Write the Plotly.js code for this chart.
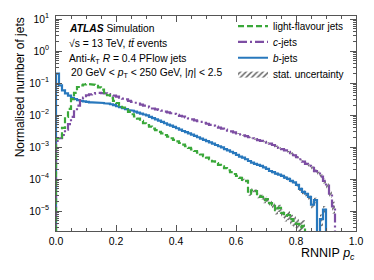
<!DOCTYPE html>
<html>
<head>
<meta charset="utf-8">
<script src="https://cdn.plot.ly/plotly-3.0.1.min.js"></script>
<style>html,body{margin:0;padding:0;background:#fff;}#plot{width:374px;height:280px;}</style>
</head>
<body>
<div id="plot"></div>
<script>
// Histogram binning of RNNIP p_c (100 equal bins on [0,1])
const xMin = 0.0, xMax = 1.0, nBins = 100;

// Normalised number of jets per bin (0 = empty bin)
const lightJets = [
 1.9e-3, 2.0e-3, 4.0e-3, 8.9e-3, 1.58e-2, 3.16e-2, 5.0e-2, 7.6e-2, 8.5e-2, 9.1e-2,
 9.3e-2, 9.3e-2, 8.9e-2, 8.3e-2, 7.4e-2, 6.3e-2, 5.1e-2, 4.2e-2, 3.4e-2, 2.8e-2,
 2.4e-2, 2.04e-2, 1.74e-2, 1.48e-2, 1.26e-2, 1.07e-2, 9.1e-3, 7.8e-3, 6.6e-3, 5.6e-3,
 4.9e-3, 4.4e-3, 3.8e-3, 3.4e-3, 3.0e-3, 2.7e-3, 2.4e-3, 2.14e-3, 1.9e-3, 1.7e-3,
 1.51e-3, 1.35e-3, 1.2e-3, 1.07e-3, 9.5e-4, 8.5e-4, 7.6e-4, 6.8e-4, 5.9e-4, 5.25e-4,
 4.7e-4, 4.2e-4, 3.6e-4, 3.2e-4, 2.8e-4, 2.5e-4, 2.2e-4, 1.9e-4, 1.66e-4, 1.45e-4,
 1.26e-4, 1.1e-4, 9.5e-5, 8.9e-5, 3.55e-5, 4.5e-5, 4.2e-5, 3.0e-5, 2.8e-5, 2.2e-5,
 2.4e-5, 1.78e-5, 1.58e-5, 1.07e-5, 1.26e-5, 8.9e-6, 7.1e-6, 7.6e-6, 5.6e-6, 5.0e-6,
 4.0e-6, 3.16e-6, 3.5e-6, 0, 0, 0, 0, 0, 0, 0,
 0, 0, 0, 0, 0, 0, 0, 0, 0, 0
];
const cJets = [
 1.58e-3, 1.9e-3, 2.4e-3, 3.55e-3, 5.25e-3, 8.9e-3, 1.32e-2, 2.0e-2, 2.95e-2, 3.55e-2,
 4.2e-2, 4.5e-2, 4.7e-2, 4.9e-2, 5.0e-2, 4.9e-2, 4.8e-2, 4.6e-2, 4.35e-2, 4.1e-2,
 3.8e-2, 3.55e-2, 3.3e-2, 3.1e-2, 2.8e-2, 2.6e-2, 2.45e-2, 2.3e-2, 2.14e-2, 2.0e-2,
 1.86e-2, 1.74e-2, 1.62e-2, 1.51e-2, 1.45e-2, 1.38e-2, 1.29e-2, 1.23e-2, 1.15e-2, 1.1e-2,
 1.02e-2, 9.5e-3, 9.1e-3, 8.5e-3, 7.9e-3, 7.4e-3, 6.9e-3, 6.5e-3, 6.2e-3, 5.75e-3,
 5.4e-3, 5.0e-3, 4.7e-3, 4.4e-3, 4.1e-3, 3.8e-3, 3.55e-3, 3.3e-3, 3.1e-3, 2.9e-3,
 2.7e-3, 2.5e-3, 2.35e-3, 2.2e-3, 2.04e-3, 1.9e-3, 1.78e-3, 1.66e-3, 1.58e-3, 1.48e-3,
 1.38e-3, 1.29e-3, 1.17e-3, 1.07e-3, 9.5e-4, 8.7e-4, 7.9e-4, 7.2e-4, 6.5e-4, 5.6e-4,
 4.9e-4, 4.2e-4, 3.55e-4, 3.0e-4, 2.6e-4, 2.24e-4, 1.78e-4, 1.5e-4, 1.2e-4, 8.9e-5,
 6.3e-5, 3.55e-5, 1.41e-5, 0, 0, 0, 0, 0, 0, 0
];
const bJets = [
 2.0e-1, 8.5e-2, 6.0e-2, 4.8e-2, 4.1e-2, 3.5e-2, 3.2e-2, 2.95e-2, 2.8e-2, 2.7e-2,
 2.6e-2, 2.5e-2, 2.5e-2, 2.45e-2, 2.45e-2, 2.4e-2, 2.35e-2, 2.3e-2, 2.2e-2, 2.05e-2,
 1.9e-2, 1.78e-2, 1.66e-2, 1.55e-2, 1.45e-2, 1.38e-2, 1.29e-2, 1.2e-2, 1.12e-2, 1.05e-2,
 9.8e-3, 8.9e-3, 8.1e-3, 7.4e-3, 6.8e-3, 6.2e-3, 5.6e-3, 5.1e-3, 4.7e-3, 4.3e-3,
 3.9e-3, 3.55e-3, 3.2e-3, 2.95e-3, 2.7e-3, 2.45e-3, 2.24e-3, 2.04e-3, 1.86e-3, 1.7e-3,
 1.55e-3, 1.41e-3, 1.29e-3, 1.17e-3, 1.07e-3, 9.8e-4, 8.7e-4, 7.9e-4, 7.2e-4, 6.5e-4,
 5.75e-4, 5.1e-4, 4.7e-4, 4.2e-4, 3.7e-4, 3.3e-4, 3.0e-4, 2.8e-4, 2.6e-4, 2.35e-4,
 2.1e-4, 1.8e-4, 1.66e-4, 1.5e-4, 1.38e-4, 1.26e-4, 1.12e-4, 1.02e-4, 8.9e-5, 7.9e-5,
 6.6e-5, 5.0e-5, 4.0e-5, 3.5e-5, 2.8e-5, 1.6e-5, 2.2e-5, 0, 5.6e-6, 1.12e-5,
 0, 0, 0, 0, 0, 0, 0, 0, 0, 0
];

// Relative statistical uncertainty in the tails (from bin errStartBin onwards)
const errStartBin = 60;
const lightErrTail = [0.08,0.09,0.09,0.10,0.15,0.14,0.14,0.16,0.17,0.19,0.18,0.21,0.22,0.27,0.25,0.30,0.33,0.32,0.37,0.40,0.45,0.50,0.48];
const cErrTail = [0.03,0.03,0.03,0.03,0.03,0.04,0.04,0.04,0.04,0.04,0.04,0.05,0.05,0.05,0.05,0.06,0.06,0.06,0.07,0.07,0.08,0.08,0.09,0.10,0.11,0.12,0.13,0.14,0.16,0.18,0.21,0.27,0.40];
const bErrTail = [0.04,0.04,0.05,0.05,0.05,0.05,0.06,0.06,0.06,0.07,0.07,0.07,0.08,0.08,0.08,0.09,0.09,0.10,0.10,0.11,0.12,0.14,0.15,0.16,0.18,0.24,0.20,0,0.40,0.30];

const seriesNames = ['light-flavour jets', '<i>c</i>-jets', '<i>b</i>-jets'];
const uncertaintyName = 'stat. uncertainty';
const yTickVals = [1e-5, 1e-4, 1e-3, 1e-2, 1e-1, 1e0, 1e1];
const yTickText = ['10<sup>\u22125</sup>','10<sup>\u22124</sup>','10<sup>\u22123</sup>','10<sup>\u22122</sup>','10<sup>\u22121</sup>','10<sup>0</sup>','10<sup>1</sup>'];
const xTickVals = [0.0, 0.2, 0.4, 0.6, 0.8, 1.0];
const xTickText = ['0.0','0.2','0.4','0.6','0.8','1.0'];
const infoLines = [
  '<b><i>ATLAS</i></b> Simulation',
  '\u221As = 13 TeV, <i>t</i><i>t\u0304</i> events',
  'Anti-<i>k</i><sub>T</sub> <i>R</i> = 0.4 PFlow jets',
  '\u200920 GeV &lt; <i>p</i><sub>T</sub> &lt; 250 GeV, |<i>\u03B7</i>| &lt; 2.5'
];

// ---- drawing ----
const FLOOR = 1e-9;
const bw = (xMax - xMin) / nBins;
function stepXY(vals) {
  const xs = [xMin], ys = [FLOOR];
  for (let i = 0; i < vals.length; i++) {
    const lo = xMin + i * bw, hi = lo + bw;
    const v = vals[i] > 0 ? vals[i] : FLOOR;
    xs.push(lo, hi); ys.push(v, v);
  }
  xs.push(xMax); ys.push(FLOOR);
  return {x: xs, y: ys};
}
function bandXY(vals, errs) {
  const xs = [], ys = [];
  for (let k = 0; k < errs.length; k++) {
    const i = errStartBin + k, v = vals[i], e = errs[k];
    if (!(v > 0) || !(e > 0)) continue;
    const lo = xMin + i * bw, hi = lo + bw;
    const up = v * (1 + e), dn = Math.max(v * (1 - e), FLOOR * 10);
    xs.push(lo, hi, hi, lo, lo, null);
    ys.push(up, up, dn, dn, up, null);
  }
  return {x: xs, y: ys};
}

const colors = ['#3aa83a', '#7d4ea3', '#2878bd'];
const dashes = ['6px,3px', '9px,3px,2px,3px', 'solid'];
const allVals = [lightJets, cJets, bJets];
const allErrs = [lightErrTail, cErrTail, bErrTail];
const legendIds = ['legend', 'legend2', 'legend3'];
const hatch = {shape: '/', fgcolor: '#555', bgcolor: 'rgba(255,255,255,0)', size: 4, solidity: 0.35};

const traces = [];
for (let s = 0; s < 3; s++) {
  const b = bandXY(allVals[s], allErrs[s]);
  traces.push({
    x: b.x, y: b.y, mode: 'lines', type: 'scatter', fill: 'toself',
    fillcolor: 'rgba(0,0,0,0)', line: {width: 0, color: 'rgba(0,0,0,0)'},
    fillpattern: hatch, legend: 'legend4',
    name: uncertaintyName, showlegend: s === 0, hoverinfo: 'skip'
  });
}
const order = [2, 1, 0];
for (const s of order) {
  const st = stepXY(allVals[s]);
  traces.push({
    x: st.x, y: st.y, mode: 'lines', type: 'scatter',
    line: {color: colors[s], width: 2.2, dash: dashes[s]},
    name: seriesNames[s], legend: legendIds[s]
  });
}

const L = 56, R = 18, T = 14, B = 49, W = 374, H = 280;
const pw = W - L - R, ph = H - T - B;
const px2x = p => (p - L) / pw;
const py2y = p => 1 - (p - T) / ph;
const FONT = 'Liberation Sans, Arial, Helvetica, sans-serif';

const minorY = [];
for (let e = -6; e <= 1; e++) for (let m = 2; m <= 9; m++) minorY.push(m * Math.pow(10, e));

function legendAt(centerPy) {
  return {x: px2x(233), y: py2y(centerPy - 16.5), xanchor: 'left', yanchor: 'top',
    bgcolor: 'rgba(0,0,0,0)', font: {size: 10, family: FONT}, traceorder: 'normal', itemwidth: 30};
}
const linePy = [26.7, 41.7, 58, 72.5];

const layout = {
  width: W, height: H,
  margin: {l: L, r: R, t: T, b: B, pad: 0},
  paper_bgcolor: '#fff', plot_bgcolor: '#fff',
  font: {family: FONT, size: 10.5, color: '#000'},
  showlegend: true,
  legend: legendAt(26), legend2: legendAt(42), legend3: legendAt(58), legend4: legendAt(74),
  xaxis: {
    type: 'linear', range: [xMin, xMax], showgrid: false, zeroline: false,
    showline: true, linecolor: '#555', linewidth: 1, mirror: 'allticks',
    ticks: 'inside', ticklen: 6, tickcolor: '#555', tickwidth: 1,
    tickmode: 'array', tickvals: xTickVals, ticktext: xTickText,
    tickfont: {size: 10.5, family: FONT, color: '#000'},
    minor: {tickmode: 'linear', tick0: 0, dtick: 0.05, ticks: 'inside', ticklen: 3, tickcolor: '#555', showgrid: false}
  },
  yaxis: {
    type: 'log', range: [-5.62, 1.10], showgrid: false, zeroline: false,
    showline: true, linecolor: '#555', linewidth: 1, mirror: 'allticks',
    ticks: 'inside', ticklen: 6, tickcolor: '#555', tickwidth: 1, ticklabelstandoff: 4,
    tickmode: 'array', tickvals: yTickVals, ticktext: yTickText,
    tickfont: {size: 10.3, family: FONT, color: '#000'},
    minor: {tickmode: 'array', tickvals: minorY, ticks: 'inside', ticklen: 3, tickcolor: '#555', showgrid: false}
  },
  annotations: infoLines.map((t, i) => ({
    xref: 'paper', yref: 'paper', x: px2x(67), y: py2y(linePy[i]), xanchor: 'left', yanchor: 'middle',
    showarrow: false, align: 'left', text: t, font: {size: 10.3, family: FONT}
  })).concat([
    {xref: 'paper', yref: 'paper', x: px2x(20) , y: py2y(86), xanchor: 'center', yanchor: 'middle', showarrow: false,
     textangle: -90, text: 'Normalised number of jets', font: {size: 12, family: FONT}},
    {xref: 'paper', yref: 'paper', x: px2x(357), y: py2y(254), xanchor: 'right', yanchor: 'middle', showarrow: false,
     text: 'RNNIP <i>p</i><sub><i>c</i></sub>', font: {size: 12.5, family: FONT}}
  ])
};

Plotly.newPlot('plot', traces, layout, {displayModeBar: false, staticPlot: true});
</script>
</body>
</html>
